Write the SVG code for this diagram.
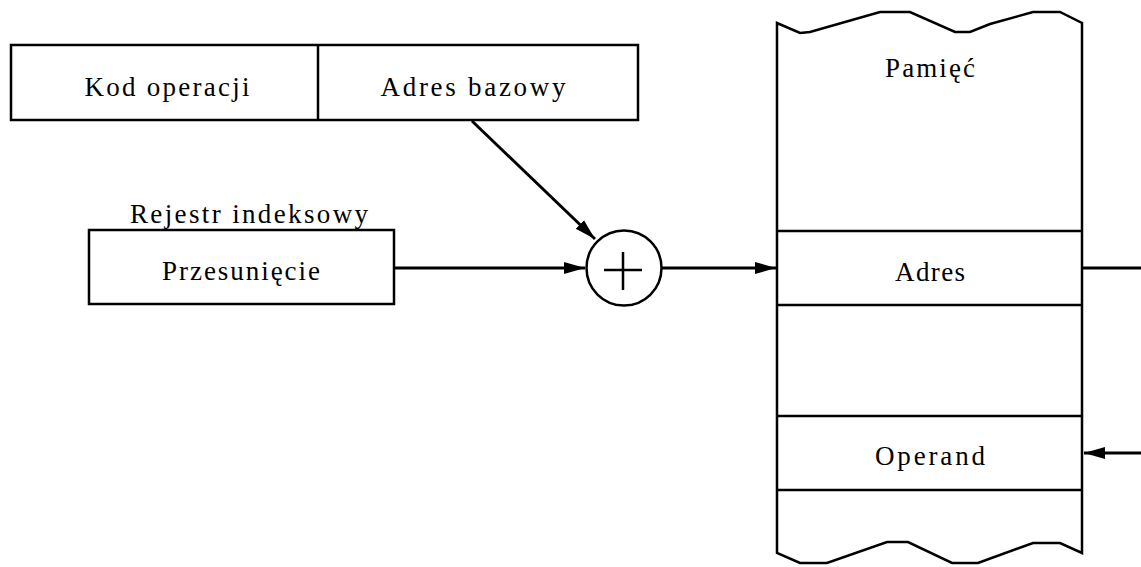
<svg xmlns="http://www.w3.org/2000/svg" width="1141" height="567" viewBox="0 0 1141 567">
  <style>
    .box { fill: #fff; stroke: #000; stroke-width: 2.5; }
    .ln { fill: none; stroke: #000; stroke-width: 2.5; }
    .wire { fill: none; stroke: #000; stroke-width: 3; }
    .t { font-family: 'Liberation Serif', 'Times New Roman', Times, 'DejaVu Serif', serif; font-size: 27px; fill: #000; text-anchor: middle; }
  </style>
  <defs>
    <marker id="arrow" markerUnits="userSpaceOnUse" markerWidth="22" markerHeight="14" refX="21" refY="7" orient="auto">
      <path d="M0,1 L21,7 L0,13 Z" fill="#000"/>
    </marker>
  </defs>
  <rect width="1141" height="567" fill="#fff"/>

  <!-- instruction word: opcode + base address -->
  <g id="instruction">
    <rect class="box" x="11" y="45" width="627" height="75"/>
    <line class="ln" x1="318" y1="45" x2="318" y2="120"/>
    <text class="t" font-family="Liberation Serif, serif" x="167" y="96" textLength="165" lengthAdjust="spacing">Kod operacji</text>
    <text class="t" font-family="Liberation Serif, serif" x="473" y="96" textLength="185" lengthAdjust="spacing">Adres bazowy</text>
  </g>

  <!-- index register -->
  <g id="index-register">
    <text class="t" font-family="Liberation Serif, serif" x="249" y="223" textLength="238" lengthAdjust="spacing">Rejestr indeksowy</text>
    <rect class="box" x="89" y="230" width="305" height="74"/>
    <text class="t" font-family="Liberation Serif, serif" x="241" y="280" textLength="158" lengthAdjust="spacing">Przesunięcie</text>
  </g>

  <!-- adder -->
  <g id="adder">
    <circle cx="624" cy="268" r="37.5" fill="#fff" stroke="#000" stroke-width="2.5"/>
    <line class="ln" x1="604" y1="270" x2="642" y2="270"/>
    <line class="ln" x1="623" y1="252" x2="623" y2="290"/>
  </g>

  <!-- memory column with torn top and bottom edges -->
  <g id="memory">
    <path class="ln" d="M777,23 L800,33 L810,32 L880,12 L910,12 L955,32 L970,32 L990,24 L1033,12 L1060,12 L1082,23 L1082,553 L1060,543 L1033,543 L978,563 L952,563 L908,542 L887,542 L827,563 L800,563 L777,553 Z" style="fill:#fff"/>
    <line class="ln" x1="777" y1="231" x2="1082" y2="231"/>
    <line class="ln" x1="777" y1="305" x2="1082" y2="305"/>
    <line class="ln" x1="777" y1="416" x2="1082" y2="416"/>
    <line class="ln" x1="777" y1="490" x2="1082" y2="490"/>
    <text class="t" font-family="Liberation Serif, serif" x="930" y="77" textLength="90" lengthAdjust="spacing">Pamięć</text>
    <text class="t" font-family="Liberation Serif, serif" x="930" y="281" textLength="70" lengthAdjust="spacing">Adres</text>
    <text class="t" font-family="Liberation Serif, serif" x="930" y="465" textLength="110" lengthAdjust="spacing">Operand</text>
  </g>

  <!-- connectors -->
  <g id="connectors">
    <line class="wire" x1="472" y1="121" x2="595" y2="239" marker-end="url(#arrow)"/>
    <line class="wire" x1="394" y1="268" x2="585" y2="268" marker-end="url(#arrow)"/>
    <line class="wire" x1="662" y1="268" x2="776" y2="268" marker-end="url(#arrow)"/>
    <line class="wire" x1="1082" y1="268" x2="1141" y2="268"/>
    <line class="wire" x1="1141" y1="453" x2="1084" y2="453" marker-end="url(#arrow)"/>
  </g>
</svg>
